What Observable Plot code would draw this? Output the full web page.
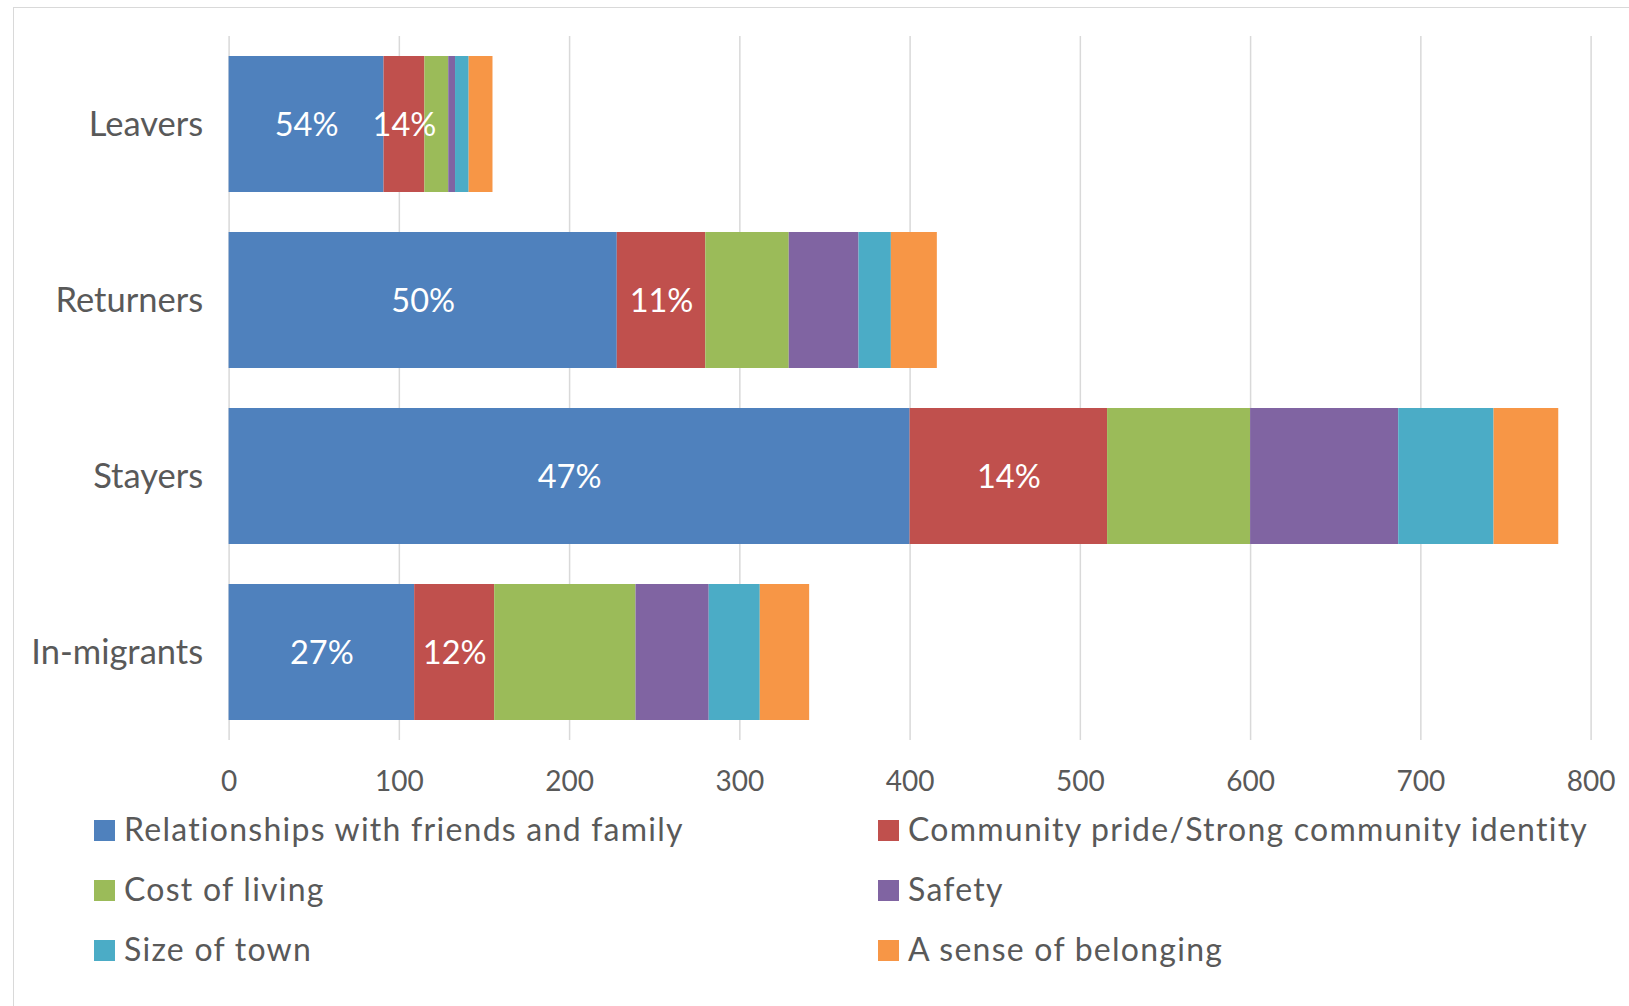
<!DOCTYPE html>
<html>
<head>
<meta charset="utf-8">
<script src="https://cdn.jsdelivr.net/npm/d3@7"></script>
<script src="https://cdn.jsdelivr.net/npm/@observablehq/plot@0.6"></script>
<style>
  html, body { margin: 0; padding: 0; background: #fff; overflow: hidden; width: 1629px; height: 1006px; }
  #frame { position: absolute; left: 13px; top: 7px; width: 1700px; height: 1100px; border: 1.5px solid #d9d9d9; box-sizing: border-box; }
  #chart { position: absolute; left: 0; top: 0; }
  .legend-item { position: absolute; font-family: Lato, sans-serif; font-size: 32px; letter-spacing: 1.25px; color: #595959; white-space: nowrap; line-height: 1; }
  .legend-item .sw { position: absolute; width: 21px; height: 21px; }
</style>
</head>
<body>
<div id="frame"></div>
<div id="chart"></div>
<div id="legend"></div>
<script>
const groups = ["Leavers", "Returners", "Stayers", "In-migrants"];
const categories = [
  "Relationships with friends and family",
  "Community pride/Strong community identity",
  "Cost of living",
  "Safety",
  "Size of town",
  "A sense of belonging"
];
const colors = ["#4F81BD", "#C0504D", "#9BBB59", "#8064A2", "#4BACC6", "#F79646"];
const relationships = [91, 228, 400, 109];
const communityPride = [24, 52, 116, 47];
const costOfLiving = [14, 49, 84, 83];
const safety = [4, 41, 87, 43];
const sizeOfTown = [8, 19, 56, 30];
const senseOfBelonging = [14, 27, 38, 29];
const relationshipsLabels = ["54%", "50%", "47%", "27%"];
const communityLabels = ["14%", "11%", "14%", "12%"];
const xTicks = [0, 100, 200, 300, 400, 500, 600, 700, 800];

const series = [relationships, communityPride, costOfLiving, safety, sizeOfTown, senseOfBelonging];
const seriesLabels = [relationshipsLabels, communityLabels, null, null, null, null];
const data = [];
series.forEach((vals, si) => {
  vals.forEach((v, gi) => {
    data.push({
      group: groups[gi],
      cat: categories[si],
      value: v,
      label: seriesLabels[si] ? seriesLabels[si][gi] : ""
    });
  });
});

const W = 1629;
const chart = Plot.plot({
  width: W,
  height: 800,
  marginLeft: 228.6,
  marginRight: W - 1590.6,
  marginTop: 36,
  marginBottom: 60,
  style: { fontFamily: "Lato, sans-serif", background: "transparent", overflow: "visible" },
  x: { domain: [0, 800], ticks: xTicks },
  y: { domain: groups, paddingInner: 0.23, paddingOuter: 0.115, label: null },
  color: { domain: categories, range: colors },
  marks: [
    Plot.gridX(xTicks, { stroke: "#d9d9d9", strokeOpacity: 1, strokeWidth: 1.5 }),
    Plot.barX(data, Plot.stackX({ x: "value", y: "group", fill: "cat", z: "cat" })),
    Plot.text(data, Plot.stackX({ x: "value", y: "group", z: "cat", text: "label", fill: "white", fontSize: 32.5, dy: 1.5 })),
    Plot.axisX(xTicks, { tickSize: 0, tickPadding: 31, fontSize: 28, fill: "#595959", label: null }),
    Plot.axisY({ tickSize: 0, tickPadding: 26, fontSize: 34.5, fill: "#595959", label: null })
  ]
});
document.getElementById("chart").appendChild(chart);

// legend
const legend = document.getElementById("legend");
const legendPos = [
  { x: 94, y: 820 }, { x: 878, y: 820 },
  { x: 94, y: 880 }, { x: 878, y: 880 },
  { x: 94, y: 940 }, { x: 878, y: 940 }
];
categories.forEach((c, i) => {
  const p = legendPos[i];
  const item = document.createElement("div");
  item.className = "legend-item";
  item.style.left = p.x + "px";
  item.style.top = p.y + "px";
  const sw = document.createElement("span");
  sw.className = "sw";
  sw.style.background = colors[i];
  sw.style.left = "0px";
  sw.style.top = "0px";
  const t = document.createElement("span");
  t.textContent = c;
  t.style.position = "absolute";
  t.style.left = "30px";
  t.style.top = "-7px";
  item.appendChild(sw);
  item.appendChild(t);
  legend.appendChild(item);
});
</script>
</body>
</html>
